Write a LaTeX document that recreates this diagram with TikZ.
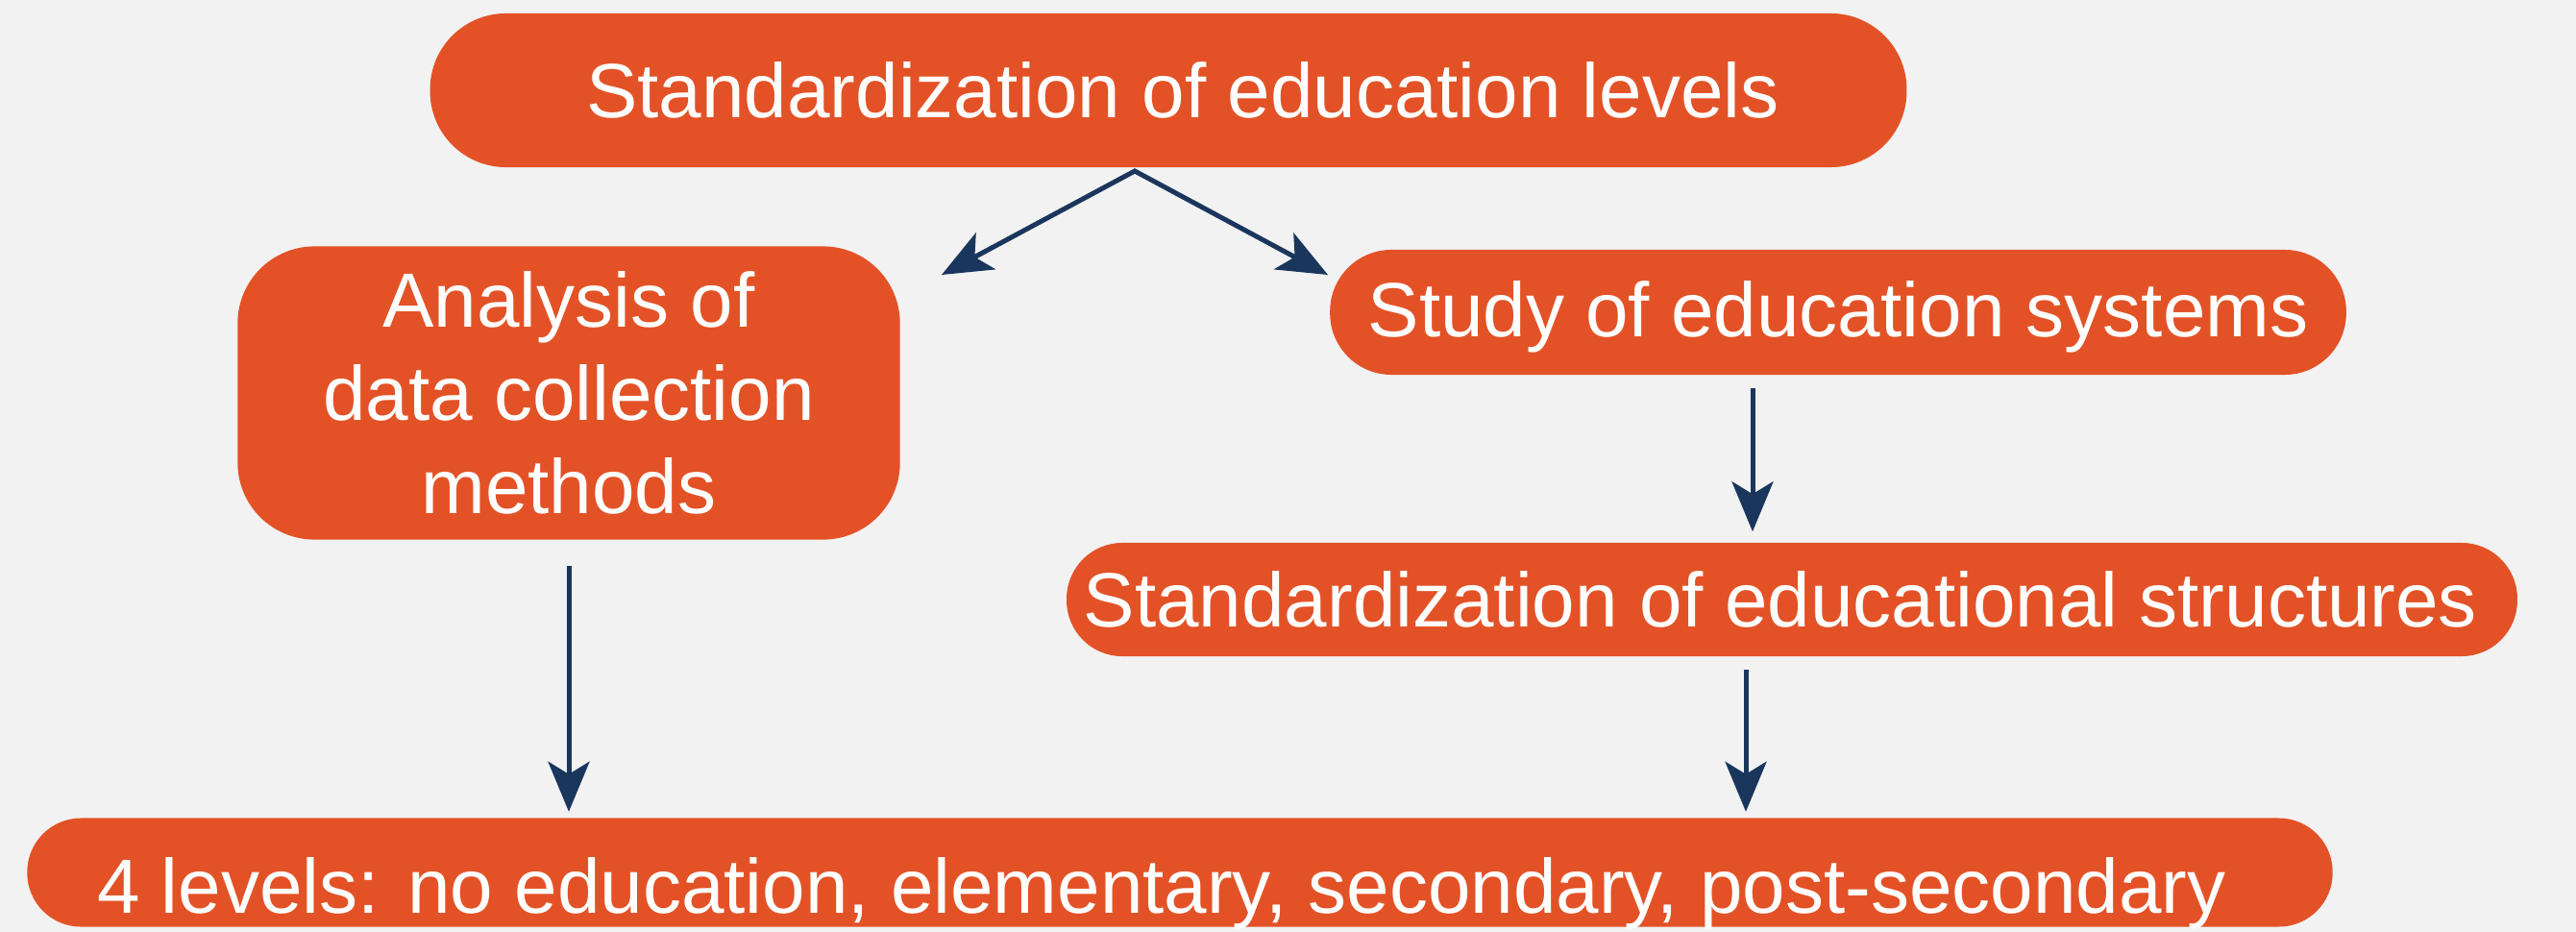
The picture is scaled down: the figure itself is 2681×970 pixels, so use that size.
\documentclass[tikz,border=0pt]{standalone}
\usepackage{fontspec}
\setmainfont{Liberation Sans}
\usetikzlibrary{arrows.meta}
\definecolor{bgc}{HTML}{F2F2F2}
\definecolor{boxc}{HTML}{E35226}
\definecolor{arrc}{HTML}{1A365D}
\begin{document}
\begin{tikzpicture}[x=0.01cm,y=-0.01cm,
  box/.style={fill=boxc, draw=none, text=white, inner sep=0pt,
    font=\fontsize{22.76pt}{27.5pt}\selectfont, text height=0.573cm, text depth=0cm},
  arr/.style={draw=arrc, line width=0.05cm,
    -{Stealth[length=0.52cm,width=0.43cm,inset=0.13cm]}},
  darr/.style={draw=arrc, line width=0.05cm, line join=miter,
    {Stealth[length=0.52cm,width=0.43cm,inset=0.13cm]}-{Stealth[length=0.52cm,width=0.43cm,inset=0.13cm]}}]
\fill[bgc] (0,0) rectangle (2681,970);
\useasboundingbox (0,0) rectangle (2681,970);

\node[box, minimum width=15.36cm, minimum height=1.60cm, rounded corners=0.79cm] (top) at (1216,94)
  {\hspace*{0.3cm}Standardization of education levels};
\node[box, minimum width=6.89cm, minimum height=3.05cm, rounded corners=0.8cm, align=center,
  text height=, text depth=] (ana) at (592,409)
  {Analysis of\\data collection\\methods};
\node[box, minimum width=10.57cm, minimum height=1.30cm, rounded corners=0.64cm] (study) at (1913,325)
  {\raisebox{0.03cm}{Study of education systems}};
\node[box, minimum width=15.09cm, minimum height=1.18cm, rounded corners=0.58cm] (struct) at (1865,624)
  {Standardization of educational structures\hspace*{0.24cm}};
\node[box, minimum width=23.98cm, minimum height=1.13cm, rounded corners=0.56cm] (bot) at (1228,908)
  {\raisebox{-0.14cm}{4 levels: no education, elementary, secondary, post-secondary}\hspace*{0.38cm}};

\coordinate (apex) at (1181,178);
\coordinate (lt) at (980,286);
\coordinate (rt) at (1382,286);
\draw[darr] (lt) -- (apex) -- (rt);

\draw[arr, shorten <=0.27cm, shorten >=0.06cm] (ana.south) -- (ana.south |- bot.north);
\coordinate (sx) at (1824,0);
\coordinate (tx) at (1817,0);
\draw[arr, shorten <=0.13cm, shorten >=0.11cm] (sx |- study.south) -- (sx |- struct.north);
\draw[arr, shorten <=0.13cm, shorten >=0.06cm] (tx |- struct.south) -- (tx |- bot.north);
\end{tikzpicture}
\end{document}
